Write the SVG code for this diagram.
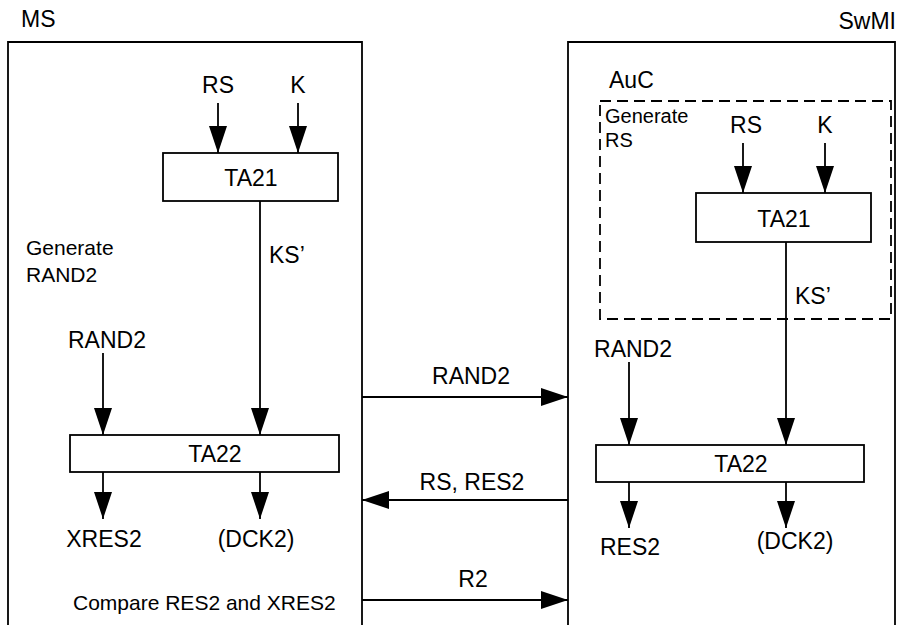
<svg xmlns="http://www.w3.org/2000/svg" width="905" height="625" viewBox="0 0 905 625">
<style>
  .box { fill: #fff; stroke: #000; stroke-width: 1.8; }
  .frame { fill: none; stroke: #000; stroke-width: 1.8; }
  .dash { fill: none; stroke: #000; stroke-width: 1.8; stroke-dasharray: 11 6; }
  .arr { fill: none; stroke: #000; stroke-width: 1.8; marker-end: url(#ah); }
  text { font-family: "Liberation Sans", Arial, sans-serif; fill: #000; }
  .t { font-size: 23px; }
  .s { font-size: 21px; }
  .g { font-size: 20px; }
  .m { text-anchor: middle; }
</style>
<defs>
  <marker id="ah" viewBox="0 0 27 18" refX="27" refY="9" markerWidth="27" markerHeight="18" orient="auto" markerUnits="userSpaceOnUse">
    <path d="M0,0 L27,9 L0,18 z" fill="#000"/>
  </marker>
</defs>
<rect width="905" height="625" fill="#fff"/>

<g id="ms">
  <path class="frame" d="M8,630 L8,42 L362,42 L362,630"/>
  <text class="t" x="21" y="27">MS</text>
  <text class="s" x="26" y="255">Generate</text>
  <text class="s" x="26" y="282">RAND2</text>
  <text class="s" x="73" y="610">Compare RES2 and XRES2</text>
</g>

<g id="swmi">
  <path class="frame" d="M568,630 L568,42 L895,42 L895,630"/>
  <text class="t" x="896" y="29" text-anchor="end">SwMI</text>
</g>

<g id="auc">
  <text class="t" x="609" y="88">AuC</text>
  <rect class="dash" x="600" y="101" width="291" height="218"/>
  <text class="g" x="605" y="123">Generate</text>
  <text class="g" x="605" y="147">RS</text>
</g>

<g id="connectors">
  <line class="arr" x1="218" y1="103" x2="218" y2="153"/>
  <line class="arr" x1="298" y1="103" x2="298" y2="153"/>
  <line class="arr" x1="260" y1="201" x2="260" y2="435"/>
  <line class="arr" x1="103" y1="353" x2="103" y2="435"/>
  <line class="arr" x1="103" y1="472" x2="103" y2="519"/>
  <line class="arr" x1="260" y1="472" x2="260" y2="519"/>
  <line class="arr" x1="362" y1="397" x2="568" y2="397"/>
  <line class="arr" x1="568" y1="500" x2="362" y2="500"/>
  <line class="arr" x1="362" y1="600" x2="568" y2="600"/>
  <line class="arr" x1="743" y1="143" x2="743" y2="193"/>
  <line class="arr" x1="825" y1="143" x2="825" y2="193"/>
  <line class="arr" x1="786" y1="242" x2="786" y2="445"/>
  <line class="arr" x1="629" y1="362" x2="629" y2="445"/>
  <line class="arr" x1="629" y1="482" x2="629" y2="528"/>
  <line class="arr" x1="786" y1="482" x2="786" y2="528"/>
</g>

<g id="ta21_ms">
  <rect class="box" x="163" y="153" width="175" height="48"/>
  <text class="t m" x="251" y="186">TA21</text>
</g>
<g id="ta22_ms">
  <rect class="box" x="70" y="435" width="269" height="37"/>
  <text class="t m" x="215" y="462">TA22</text>
</g>
<g id="ta21_sw">
  <rect class="box" x="696" y="193" width="175" height="49"/>
  <text class="t m" x="784" y="227">TA21</text>
</g>
<g id="ta22_sw">
  <rect class="box" x="596" y="445" width="268" height="37"/>
  <text class="t m" x="741" y="472">TA22</text>
</g>

<g id="labels">
  <text class="t m" x="218" y="93">RS</text>
  <text class="t m" x="298" y="93">K</text>
  <text class="t" x="269" y="263">KS’</text>
  <text class="t" x="68" y="348">RAND2</text>
  <text class="t m" x="104" y="547">XRES2</text>
  <text class="t m" x="256" y="547">(DCK2)</text>
  <text class="t m" x="471" y="384">RAND2</text>
  <text class="t m" x="472" y="490">RS, RES2</text>
  <text class="t m" x="473" y="587">R2</text>
  <text class="t m" x="746" y="133">RS</text>
  <text class="t m" x="825" y="133">K</text>
  <text class="t" x="795" y="304">KS’</text>
  <text class="t m" x="633" y="357">RAND2</text>
  <text class="t m" x="630" y="555">RES2</text>
  <text class="t m" x="795" y="549">(DCK2)</text>
</g>
</svg>
